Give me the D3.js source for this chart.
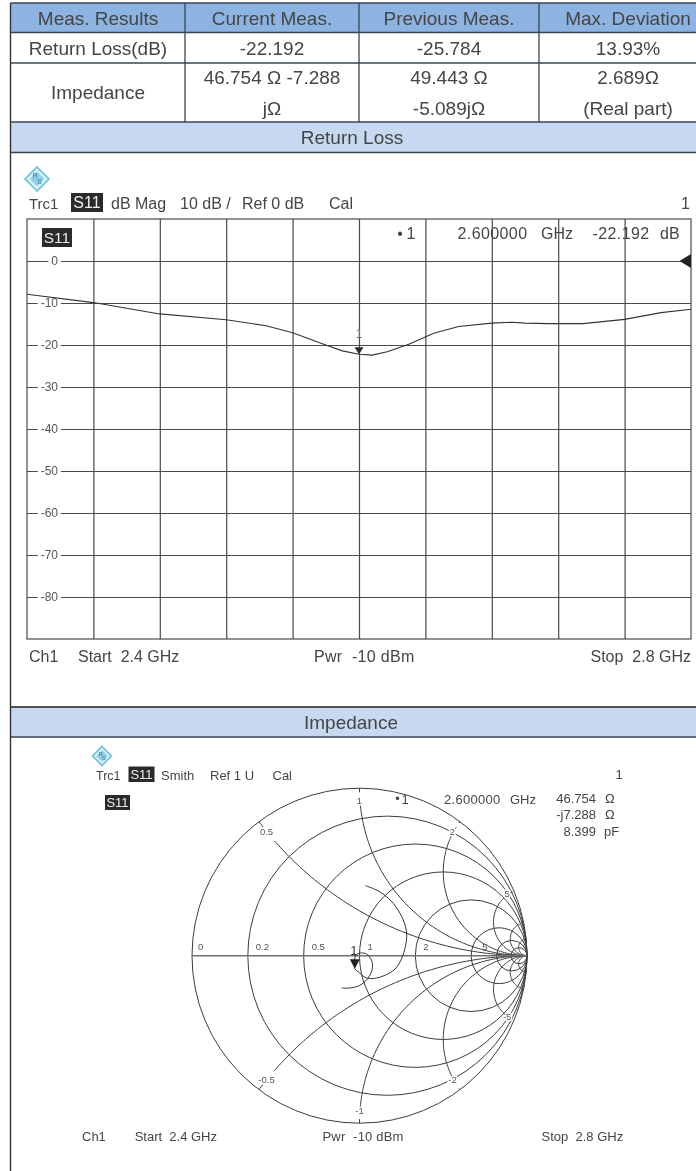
<!DOCTYPE html>
<html>
<head>
<meta charset="utf-8">
<script src="https://cdnjs.cloudflare.com/ajax/libs/d3/7.8.5/d3.min.js"></script>
<style>
html,body{margin:0;padding:0;background:#fff;}
svg{display:block;filter:blur(0.4px);font-family:"Liberation Sans",Arial,sans-serif;}
text{white-space:pre;}
</style>
</head>
<body>
<svg></svg>
<script>
/*table text*/
let tableHeader = ['Meas. Results', 'Current Meas.', 'Previous Meas.', 'Max. Deviation'];
let returnLossRow = ['Return Loss(dB)', '-22.192', '-25.784', '13.93%'];
let impedanceLabel = 'Impedance';
let impedanceLine1 = ['46.754 Ω -7.288', '49.443 Ω', '2.689Ω'];
let impedanceLine2 = ['jΩ', '-5.089jΩ', '(Real part)'];

/*return loss trace*/
let traceFreq = [2.4, 2.44, 2.48, 2.52, 2.544, 2.56, 2.58, 2.59, 2.6, 2.608, 2.617, 2.63, 2.645, 2.66, 2.68, 2.692, 2.7, 2.714, 2.735, 2.76, 2.782, 2.8];
let traceDb = [-7.9, -9.9, -12.6, -14.0, -15.4, -17.1, -20, -21.4, -22.19, -22.4, -21.6, -19.8, -17.2, -15.6, -14.8, -14.6, -14.8, -14.9, -14.9, -13.9, -12.3, -11.5];
let dbTicks = [0, -10, -20, -30, -40, -50, -60, -70, -80];
let freqGrid = [2.44, 2.48, 2.52, 2.56, 2.6, 2.64, 2.68, 2.72, 2.76];

/*smith chart trace as reflection coefficient re / im*/
let smithRe = [.035, .093, .142, .202, .242, .272, .282, .274, .252, .212, .142, .073, .033, -.007, -.028, -.03, -.021, .007, .043, .071, .078, .063, .033, -.007, -.057, -.107];
let smithIm = [.418, .396, .368, .312, .253, .183, .123, .054, -.016, -.08, -.121, -.137, -.129, -.096, -.078, -.03, .004, .016, .01, -.026, -.066, -.115, -.155, -.181, -.193, -.193];
let smithMarker = [-.028, -.078];
let realCircles = [.2, .5, 1, 2, 5, 10, 20];
let realLabels = [0, .2, .5, 1, 2, 5];
let reactanceArcs = [.5, 1, 2, 5, 10, 20, -.5, -1, -2, -5, -10, -20];
let reactanceLabels = [.5, 1, 2, 5, -.5, -1, -2, -5];

let width = 696;
let height = 1171;
let ink = '#454545';
let gridInk = '#4a4a4a';

let svg = d3.select('svg').attr('width', width).attr('height', height);

let label = (parent, str, x, y, size, anchor, fill) => {
    return parent.append('text')
        .attr('x', x).attr('y', y)
        .attr('font-size', size)
        .attr('text-anchor', anchor || 'start')
        .attr('fill', fill || ink)
        .text(str);
};

/*dark S11 tag*/
let tag = (parent, x, y, w, h, size) => {
    parent.append('rect').attr('x', x).attr('y', y).attr('width', w).attr('height', h).attr('fill', '#2a2a2a');
    label(parent, 'S11', x + w / 2, y + h - (h - size * 0.72) / 2, size, 'middle', '#eee');
};

/*the small diamond logo*/
let logo = (cx, cy, r) => {
    let g = svg.append('g').attr('transform', 'translate(' + cx + ',' + cy + ')');
    g.append('path')
        .attr('d', 'M0,' + (-r) + 'L' + r + ',0L0,' + r + 'L' + (-r) + ',0Z')
        .attr('fill', '#d8f0f6').attr('stroke', '#6cc0d8').attr('stroke-width', 1.6);
    g.append('path')
        .attr('d', 'M0,' + (-r * .6) + 'L' + (r * .6) + ',0L0,' + (r * .6) + 'L' + (-r * .6) + ',0Z')
        .attr('fill', '#8fd0e6');
    label(g, 'R', -r * .15, -r * .05, r * .6, 'middle', '#2f7fa8');
    label(g, 'S', r * .2, r * .45, r * .6, 'middle', '#2f7fa8');
};

let drawTable = () => {
    let colX = [10.5, 185, 359, 539, 696];
    let rowY = [3, 32.5, 63, 122];
    let centers = [98, 272, 449, 628];
    let border = '#3a4650';
    svg.append('rect').attr('x', colX[0]).attr('y', rowY[0]).attr('width', width - colX[0]).attr('height', rowY[1] - rowY[0]).attr('fill', '#8db3e2');
    svg.append('rect').attr('x', colX[0]).attr('y', 122).attr('width', width - colX[0]).attr('height', 30.5).attr('fill', '#c6d9f1');
    svg.append('rect').attr('x', colX[0]).attr('y', 707).attr('width', width - colX[0]).attr('height', 30).attr('fill', '#c6d9f1');

    rowY.concat([152.5, 707, 737]).forEach(y => {
        svg.append('line').attr('x1', colX[0]).attr('x2', width).attr('y1', y).attr('y2', y)
            .attr('stroke', y == 707 ? '#222' : border).attr('stroke-width', y == 707 ? 1.6 : 1.3);
    });
    colX.slice(1, 4).forEach(x => {
        svg.append('line').attr('x1', x).attr('x2', x).attr('y1', 3).attr('y2', 122).attr('stroke', border).attr('stroke-width', 1.3);
    });
    svg.append('line').attr('x1', colX[0]).attr('x2', colX[0]).attr('y1', 3).attr('y2', height).attr('stroke', '#333').attr('stroke-width', 1.4);

    let fs = 19;
    tableHeader.forEach((t, i) => label(svg, t, centers[i], 25, fs, 'middle'));
    returnLossRow.forEach((t, i) => label(svg, t, centers[i], 55, fs, 'middle'));
    label(svg, impedanceLabel, centers[0], 99, fs, 'middle');
    impedanceLine1.forEach((t, i) => label(svg, t, centers[i + 1], 84, fs, 'middle'));
    impedanceLine2.forEach((t, i) => label(svg, t, centers[i + 1], 114.5, fs, 'middle'));
    label(svg, 'Return Loss', 352, 144, fs, 'middle');
    label(svg, 'Impedance', 351, 729, fs, 'middle');
};

let drawReturnLoss = () => {
    let x = d3.scaleLinear().domain([2.4, 2.8]).range([27, 691]);
    let y = d3.scaleLinear().domain([10, -90]).range([219, 639]);
    let g = svg.append('g');
    let fs = 16;

    logo(37, 179, 12);
    label(g, 'Trc1', 29, 209, 15);
    tag(g, 71, 193, 32, 19, fs);
    label(g, 'dB Mag', 111, 209, fs);
    label(g, '10 dB /', 180, 209, fs);
    label(g, 'Ref 0 dB', 242, 209, fs);
    label(g, 'Cal', 329, 209, fs);
    label(g, '1', 690, 209, fs, 'end');

    /*axes give the grid lines, labels sit inside the plot*/
    let xAxis = d3.axisBottom(x).tickValues(freqGrid).tickSize(-420).tickFormat('');
    let yAxis = d3.axisLeft(y).tickValues(dbTicks).tickSize(-664).tickPadding(-31).tickFormat(d => String(d));
    let gx = g.append('g').attr('transform', 'translate(0,639)').call(xAxis);
    let gy = g.append('g').attr('transform', 'translate(27,0)').call(yAxis);
    [gx, gy].forEach(a => {
        a.select('.domain').remove();
        a.selectAll('line').attr('stroke', gridInk).attr('stroke-width', 1.2);
    });
    gy.selectAll('text')
        .attr('fill', '#555').attr('font-size', 12).attr('font-family', '"Liberation Sans"')
        .attr('stroke', '#fff').attr('stroke-width', 7).attr('paint-order', 'stroke').attr('stroke-linejoin', 'round');
    g.append('rect').attr('x', 27).attr('y', 219).attr('width', 664).attr('height', 420)
        .attr('fill', 'none').attr('stroke', gridInk).attr('stroke-width', 1.2);

    tag(g, 42, 228, 30, 19, 15.5);

    label(g, '•', 400, 239, fs, 'middle');
    label(g, '1', 411, 239, fs, 'middle');
    label(g, '2.600000', 457.5, 239, fs).attr('letter-spacing', .4);
    label(g, 'GHz', 541, 239, fs);
    label(g, '-22.192', 592.5, 239, fs).attr('letter-spacing', .4);
    label(g, 'dB', 660, 239, fs);

    let line = d3.line().x((d, i) => x(traceFreq[i])).y(d => y(d));
    g.append('path').datum(traceDb).attr('d', line).attr('fill', 'none').attr('stroke', '#333').attr('stroke-width', 1.1);

    /*marker 1 at 2.6 GHz*/
    let mx = x(2.6), my = y(-22.19);
    g.append('path').attr('d', 'M' + mx + ',' + my + 'l-4.5,-7h9Z').attr('fill', '#2a2a2a');
    label(g, '1', mx, my - 16, 12, 'middle', '#777');
    /*reference arrow at 0 dB*/
    g.append('path').attr('d', 'M691,' + (y(0) - 7) + 'l-11.5,7l11.5,7Z').attr('fill', '#222');

    label(g, 'Ch1', 29, 661.5, fs);
    label(g, 'Start  2.4 GHz', 78, 661.5, fs);
    label(g, 'Pwr  -10 dBm', 314, 661.5, fs).attr('letter-spacing', .3);
    label(g, 'Stop  2.8 GHz', 691, 661.5, fs, 'end');
};

let drawSmith = () => {
    let sx = d3.scaleLinear().domain([-1, 1]).range([192, 527]);
    let sy = d3.scaleLinear().domain([-1, 1]).range([1123.2, 788.2]);
    let g = svg.append('g');
    let thin = '#3c3c3c';
    let fs = 13;

    logo(102, 756, 9.5);
    label(g, 'Trc1', 96, 780, 12.5);
    tag(g, 128.5, 766.5, 26, 15.5, fs);
    label(g, 'Smith', 161, 780, fs);
    label(g, 'Ref 1 U', 210, 780, fs);
    label(g, 'Cal', 272.5, 780, fs);
    label(g, '1', 619, 779, fs, 'middle');
    tag(g, 105, 795, 25, 15, fs);

    label(g, '•', 397.5, 803, fs, 'middle');
    label(g, '1', 405, 804, fs, 'middle');
    label(g, '2.600000', 444, 804, fs).attr('letter-spacing', .3);
    label(g, 'GHz', 510, 804, fs);
    label(g, '46.754', 596, 803, fs, 'end');
    label(g, '-j7.288', 596, 819, fs, 'end');
    label(g, '8.399', 596, 835.5, fs, 'end');
    label(g, 'Ω', 605, 803, fs);
    label(g, 'Ω', 605, 819, fs);
    label(g, 'pF', 604, 835.5, fs);

    /*z to gamma*/
    let gamma = (r, xv) => {
        let d = (r + 1) * (r + 1) + xv * xv;
        return [(r * r + xv * xv - 1) / d, 2 * xv / d];
    };
    let path = d3.line().x(d => sx(d[0])).y(d => sy(d[1]));
    let pxPerUnit = sx(1) - sx(0);

    /*outer rim and real part circles*/
    g.append('circle').attr('cx', sx(0)).attr('cy', sy(0)).attr('r', pxPerUnit)
        .attr('fill', 'none').attr('stroke', thin).attr('stroke-width', 1);
    g.selectAll('.real').data(realCircles).enter().append('circle')
        .attr('class', 'real')
        .attr('cx', d => sx(d / (d + 1)))
        .attr('cy', sy(0))
        .attr('r', d => pxPerUnit / (d + 1))
        .attr('fill', 'none').attr('stroke', thin).attr('stroke-width', 1);

    /*reactance arcs start a bit inside the rim*/
    let rSamples = d3.range(0, 90).map(k => 0.1 * Math.pow(1.09, k));
    g.selectAll('.arc').data(reactanceArcs).enter().append('path')
        .attr('class', 'arc')
        .attr('d', d => path(rSamples.map(r => gamma(r, d))))
        .attr('fill', 'none').attr('stroke', thin).attr('stroke-width', 1);

    /*rim ticks*/
    g.selectAll('.rimtick').data([.5, 1, 2, -.5, -1, -2]).enter().append('path')
        .attr('class', 'rimtick')
        .attr('d', d => path([gamma(0, d), gamma(.025, d)]))
        .attr('fill', 'none').attr('stroke', thin).attr('stroke-width', 1);

    /*axis*/
    g.append('line').attr('x1', sx(-1)).attr('x2', sx(1)).attr('y1', sy(0)).attr('y2', sy(0))
        .attr('stroke', '#707070').attr('stroke-width', 1.6);

    let halo = s => s.attr('stroke', '#fff').attr('stroke-width', 3).attr('paint-order', 'stroke').attr('stroke-linejoin', 'round');
    realLabels.forEach(r => {
        let px = sx((r - 1) / (r + 1));
        label(g, r, px + (r == 0 ? 6 : r == 5 ? 11 : 8), sy(0) - 6, 9.5, 'start', '#555');
    });
    reactanceLabels.forEach(v => {
        let p = gamma(0, v);
        let k = Math.abs(v) == 5 ? .955 : .925;
        halo(label(g, v, sx(p[0] * k), sy(p[1] * k) + 3, 9.5, 'middle', '#555'));
    });

    /*measured trace*/
    let tracePts = smithRe.map((d, i) => [d, smithIm[i]]);
    g.append('path').datum(tracePts)
        .attr('d', d3.line().x(d => sx(d[0])).y(d => sy(d[1])).curve(d3.curveCatmullRom))
        .attr('fill', 'none').attr('stroke', '#333').attr('stroke-width', 1);

    let mx = sx(smithMarker[0]), my = sy(smithMarker[1]);
    g.append('path').attr('d', 'M' + mx + ',' + my + 'l-5,-9.5h10Z').attr('fill', '#222');
    label(g, '1', mx - 1, my - 13.5, 13, 'middle', '#333');

    label(g, 'Ch1', 82, 1141, fs);
    label(g, 'Start  2.4 GHz', 217, 1141, fs, 'end');
    label(g, 'Pwr  -10 dBm', 322.5, 1141, fs).attr('letter-spacing', .2);
    label(g, 'Stop  2.8 GHz', 541.5, 1141, fs);
};

drawTable();
drawReturnLoss();
drawSmith();
</script>
</body>
</html>
